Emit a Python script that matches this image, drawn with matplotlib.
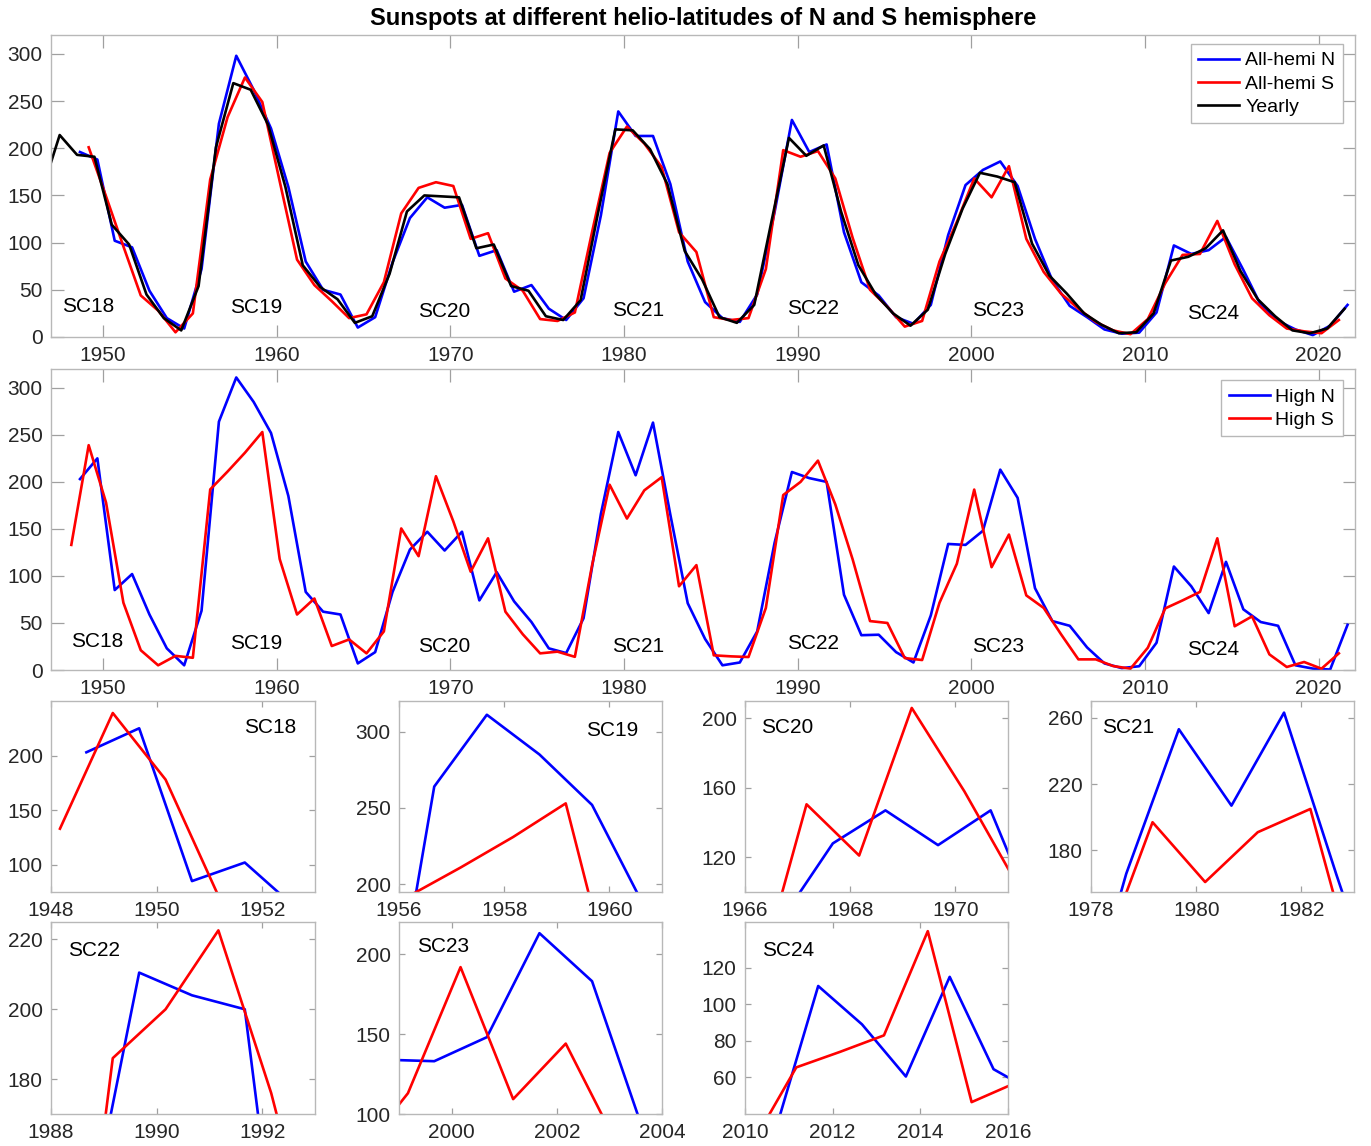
import numpy as np
import matplotlib
matplotlib.use("Agg")
import matplotlib.pyplot as plt

plt.rcParams['font.family'] = ['Liberation Sans', 'DejaVu Sans']

# ---------------- data ----------------
yearly_years = list(range(1946, 2022))
yearly_vals = [156, 214, 193, 191, 119, 98, 45, 20, 7, 54,
               201, 269, 262, 225, 159, 76, 53, 40, 15, 22,
               67, 133, 150, 149, 148, 94, 98, 54, 49, 22,
               18, 39, 131, 220, 219, 199, 162, 91, 61, 21,
               15, 34, 123, 211, 192, 203, 133, 76, 45, 25,
               12, 29, 88, 136, 174, 170, 164, 99, 65, 46,
               25, 13, 4, 5, 25, 81, 85, 94, 113, 70,
               40, 22, 7, 4, 9, 30]

alln_years = list(range(1948, 2022))
alln_vals = [196, 188, 102, 95, 49, 20, 9, 72, 226, 298,
             262, 221, 159, 80, 50, 45, 10, 21, 79, 126,
             148, 137, 140, 86, 92, 48, 55, 30, 18, 41,
             129, 239, 213, 213, 162, 80, 37, 20, 16, 45,
             132, 230, 196, 204, 111, 58, 44, 21, 14, 34,
             108, 161, 177, 186, 160, 104, 60, 33, 21, 8,
             3.5, 4.6, 26, 97, 88, 92, 106, 71, 34, 17,
             8, 2, 12, 34]

alls_years = list(range(1949, 2022))
alls_vals = [201, 149, 96, 44, 28, 5, 25, 167, 233, 275,
             249, 165, 82, 55, 38, 20, 24, 58, 131, 158,
             164, 160, 104, 110, 62, 49, 19, 17, 26, 112,
             195, 223, 205, 180, 111, 90, 21, 18, 20, 72,
             198, 191, 197, 168, 105, 50, 32, 11, 17, 80,
             122, 168, 148, 181, 104, 69, 46, 30, 16, 7,
             3, 19, 57, 87, 88, 123, 77, 41, 23, 9,
             6, 4, 18]

highn_years = list(range(1948, 2022))
highn_vals = [203, 225, 85, 102, 59, 23, 5, 63, 264, 311,
              285, 252, 185, 83, 62, 59, 7, 19, 83, 128,
              147, 127, 147, 74, 104, 73, 51, 23, 18, 55,
              166, 253, 207, 263, 165, 71, 33, 5, 8, 41,
              135, 210.5, 204, 200, 80, 37, 37.5, 19, 8, 58,
              134, 133, 148, 213, 183, 87, 52, 47, 24, 7,
              2, 4, 29, 110, 89, 60.5, 115, 64.5, 51, 47,
              5, 1.5, 0.5, 48]

highs_years = list(range(1948, 2022))
highs_vals = [133, 239, 178, 71.5, 21, 5, 15, 13, 192, 211,
              231, 253, 118, 59, 76, 25.5, 32.5, 17.7, 41, 150.5,
              121, 206, 158, 104.5, 140, 62, 38, 17.7, 19.5, 14,
              112, 197, 161, 191, 205, 89, 111.5, 15.6, 14.5, 13.8,
              66, 186, 200, 222.6, 176, 117.5, 52, 50, 12.7, 10.6,
              71.5, 113, 191.8, 109.3, 144, 79.3, 66, 38, 11.3, 11.3,
              4.2, 1.4, 23.7, 65.5, 74, 83, 140, 46.5, 57, 16.6,
              3.2, 8.5, 1.4, 17.7]

# time-of-year offsets of each series (fraction of year)
OFF_N, OFF_S, OFF_Y = 0.67, 0.17, 0.5

cycle_names = ['SC18', 'SC19', 'SC20', 'SC21', 'SC22', 'SC23', 'SC24']

xn_all = np.array(alln_years) + OFF_N
xs_all = np.array(alls_years) + OFF_S
xy = np.array(yearly_years) + OFF_Y
xn_hi = np.array(highn_years) + OFF_N
xs_hi = np.array(highs_years) + OFF_S

# ---------------- figure ----------------
W, H = 1371, 1146
fig = plt.figure(figsize=(W / 100, H / 100), dpi=100)

def px_axes(x0, y0, x1, y1):
    return fig.add_axes([x0 / W, 1 - y1 / H, (x1 - x0) / W, (y1 - y0) / H])

FRAME = '#b8b8b8'
TXT = '#262626'
BLUE = '#0000ff'
RED = '#ff0000'
LW = 1.9
FS = 15

def style(ax, ticklen=8):
    for s in ax.spines.values():
        s.set_color(FRAME)
        s.set_linewidth(1.0)
    ax.tick_params(direction='in', length=ticklen, width=0.9, color='#a0a0a0',
                   labelsize=FS, labelcolor=TXT, top=True, right=True)
    ax.tick_params(axis='x', pad=6.5)
    ax.tick_params(axis='y', pad=6)

def add_legend(ax, anchor):
    lg = ax.legend(loc='upper right', bbox_to_anchor=anchor, borderaxespad=0,
                   fontsize=14, fancybox=False, framealpha=1, edgecolor=FRAME,
                   handlelength=2.1, handletextpad=0.3, labelspacing=0.28, borderpad=0.4)
    lg.get_frame().set_linewidth(1.0)
    return lg

# top panel
ax1 = px_axes(51, 35, 1355, 337)
ax1.plot(xn_all, alln_vals, color=BLUE, lw=LW, label='All-hemi N')
ax1.plot(xs_all, alls_vals, color=RED, lw=LW, label='All-hemi S')
ax1.plot(xy, yearly_vals, color='black', lw=LW, label='Yearly')
ax1.set_xlim(1947, 2022.1)
ax1.set_ylim(0, 320)
ax1.set_xticks(range(1950, 2021, 10))
ax1.set_yticks(range(0, 301, 50))
style(ax1, 9)
add_legend(ax1, (0.9908, 0.970))

top_lbl = [(1949.14, 32), (1958.82, 31), (1969.65, 26.5), (1980.84, 27.6),
           (1990.86, 29.7), (2001.53, 27.6), (2013.92, 24.4)]
for name, (tx, ty) in zip(cycle_names, top_lbl):
    ax1.text(tx, ty, name, fontsize=FS, ha='center', va='center', color='black')

fig.text(703 / W, 1 - 18 / H, 'Sunspots at different helio-latitudes of N and S hemisphere',
         ha='center', va='center', fontsize=17, fontweight='bold', color='black')

# second panel
ax2 = px_axes(51, 369, 1355, 670)
ax2.plot(xn_hi, highn_vals, color=BLUE, lw=LW, label='High N')
ax2.plot(xs_hi, highs_vals, color=RED, lw=LW, label='High S')
ax2.set_xlim(1947, 2022.1)
ax2.set_ylim(0, 320)
ax2.set_xticks(range(1950, 2021, 10))
ax2.set_yticks(range(0, 301, 50))
style(ax2, 9)
add_legend(ax2, (0.9908, 0.963))

mid_lbl = [(1949.65, 29.8), (1958.82, 28.7), (1969.65, 24.5), (1980.84, 25.5),
           (1990.86, 27.7), (2001.53, 25.5), (2013.92, 22.3)]
for name, (tx, ty) in zip(cycle_names, mid_lbl):
    ax2.text(tx, ty, name, fontsize=FS, ha='center', va='center', color='black')

# small panels
cols = [(51, 315), (399, 662), (745, 1008), (1091, 1354)]
rows = [(701, 892), (922, 1114)]
specs = [
    ((1948, 1953), (75, 250), [1948, 1950, 1952], [100, 150, 200], (0.83, 0.859)),
    ((1956, 1961), (195, 320), [1956, 1958, 1960], [200, 250, 300], (0.81, 0.843)),
    ((1966, 1971), (100, 210), [1966, 1968, 1970], [120, 160, 200], (0.16, 0.859)),
    ((1978, 1983), (155, 270), [1978, 1980, 1982], [180, 220, 260], (0.14, 0.859)),
    ((1988, 1993), (170, 225), [1988, 1990, 1992], [180, 200, 220], (0.163, 0.854)),
    ((1999, 2004), (100, 220), [2000, 2002, 2004], [100, 150, 200], (0.167, 0.875)),
    ((2010, 2016), (40, 145), [2010, 2012, 2014, 2016], [60, 80, 100, 120], (0.163, 0.854)),
]
for i, (name, (xl, yl, xt, yt, lp)) in enumerate(zip(cycle_names, specs)):
    r, c = divmod(i, 4)
    x0, x1 = cols[c]
    y0, y1 = rows[r]
    ax = px_axes(x0, y0, x1, y1)
    ax.plot(xn_hi, highn_vals, color=BLUE, lw=LW)
    ax.plot(xs_hi, highs_vals, color=RED, lw=LW)
    ax.set_xlim(*xl)
    ax.set_ylim(*yl)
    ax.set_xticks(xt)
    ax.set_yticks(yt)
    style(ax, 4)
    ax.text(lp[0], lp[1], name, transform=ax.transAxes, fontsize=FS,
            ha='center', va='center', color='black')

fig.savefig('out.png', dpi=100, facecolor='white')
